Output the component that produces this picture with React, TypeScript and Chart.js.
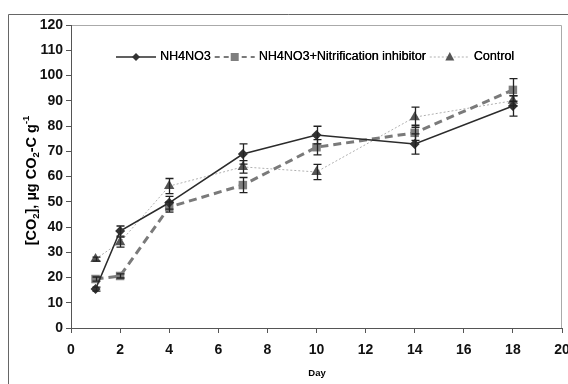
import React, { useEffect, useRef } from "react";
import { Chart, registerables } from "chart.js";

Chart.register(...registerables);

const days = [1, 2, 4, 7, 10, 14, 18];
const nh4no3 = [15.4, 38.4, 49.6, 68.9, 76.4, 72.9, 87.9];
const nh4no3Err = [0.8, 2, 2.5, 4, 3.5, 4, 4];
const inhibitor = [19.4, 20.6, 47.9, 56.6, 71.6, 77.3, 94.3];
const inhibitorErr = [0.8, 0.8, 2, 3, 3, 3, 4.5];
const control = [27.3, 34.0, 56.2, 63.8, 61.8, 83.5, 90.0];
const controlErr = [0.8, 2, 3, 2.5, 3, 4, 2];

const seriesNames = ["NH4NO3", "NH4NO3+Nitrification inhibitor", "Control"];
const xTicks = [0, 2, 4, 6, 8, 10, 12, 14, 16, 18, 20];
const yMax = 120;

const FONT = "'Liberation Sans', Arial, sans-serif";

const styles = [
  { line: "#2b2b2b", marker: "#333333", width: 1.5, dash: [] as number[], shape: "diamond", r: 5 },
  { line: "#7a7a7a", marker: "#7f7f7f", width: 3, dash: [8, 5], shape: "square", r: 6 },
  { line: "#b0b0b0", marker: "#555555", width: 1, dash: [2, 2], shape: "triangle", r: 6 },
];
const legendDash = [[], [5, 4], [2, 2]];
const legendWidth = [1.5, 2, 1];

function drawMarker(ctx: CanvasRenderingContext2D, shape: string, x: number, y: number, r: number, color: string) {
  ctx.save();
  ctx.fillStyle = color;
  ctx.beginPath();
  if (shape === "diamond") {
    ctx.moveTo(x, y - r);
    ctx.lineTo(x + r, y);
    ctx.lineTo(x, y + r);
    ctx.lineTo(x - r, y);
  } else if (shape === "square") {
    ctx.rect(x - r, y - r, 2 * r, 2 * r);
  } else {
    ctx.moveTo(x, y - r);
    ctx.lineTo(x + r * 0.9, y + r * 0.7);
    ctx.lineTo(x - r * 0.9, y + r * 0.7);
  }
  ctx.closePath();
  ctx.fill();
  ctx.restore();
}

const errs = [nh4no3Err, inhibitorErr, controlErr];

const customPlugin = {
  id: "custom",
  beforeDraw(chart: any) {
    const ctx = chart.ctx as CanvasRenderingContext2D;
    const a = chart.chartArea;
    ctx.save();
    ctx.strokeStyle = "#666";
    ctx.lineWidth = 1;
    ctx.beginPath();
    ctx.moveTo(8.5, 384);
    ctx.lineTo(8.5, 14.5);
    ctx.lineTo(568, 14.5);
    ctx.stroke();
    ctx.strokeStyle = "#aaa";
    ctx.beginPath();
    ctx.moveTo(a.left, a.top + 0.5);
    ctx.lineTo(a.right - 0.5, a.top + 0.5);
    ctx.lineTo(a.right - 0.5, a.bottom);
    ctx.stroke();
    ctx.restore();
  },
  afterDatasetsDraw(chart: any) {
    const ctx = chart.ctx as CanvasRenderingContext2D;
    const xs = chart.scales.x;
    const ys = chart.scales.y;
    ctx.save();
    ctx.strokeStyle = "#222";
    ctx.lineWidth = 1.3;
    chart.data.datasets.forEach((ds: any, i: number) => {
      ds.data.forEach((p: any, j: number) => {
        const e = errs[i][j];
        const x = Math.round(xs.getPixelForValue(p.x)) + 0.5;
        const y1 = ys.getPixelForValue(p.y - e);
        const y2 = ys.getPixelForValue(p.y + e);
        ctx.beginPath();
        ctx.moveTo(x, y1);
        ctx.lineTo(x, y2);
        ctx.moveTo(x - 4, y1);
        ctx.lineTo(x + 4, y1);
        ctx.moveTo(x - 4, y2);
        ctx.lineTo(x + 4, y2);
        ctx.stroke();
      });
    });
    ctx.restore();
  },
  afterDraw(chart: any) {
    const ctx = chart.ctx as CanvasRenderingContext2D;
    const a = chart.chartArea;
    ctx.save();
    ctx.font = `12.5px ${FONT}`;
    ctx.textBaseline = "middle";
    ctx.fillStyle = "#000";
    const ly = a.top + 32;
    let cx = a.left + 45;
    seriesNames.forEach((name, i) => {
      const s = styles[i];
      ctx.save();
      ctx.strokeStyle = s.line;
      ctx.lineWidth = legendWidth[i];
      ctx.setLineDash(legendDash[i]);
      ctx.beginPath();
      ctx.moveTo(cx, ly);
      ctx.lineTo(cx + 40, ly);
      ctx.stroke();
      ctx.restore();
      drawMarker(ctx, s.shape, cx + 20, ly, i === 1 ? 4 : s.r - 1, s.marker);
      cx += 44;
      ctx.fillText(name, cx, ly);
      ctx.fillText(name, cx + 0.3, ly);
      cx += ctx.measureText(name).width + 4;
    });
    const parts: [string, string][] = [
      ["[CO", "n"], ["2", "sub"], ["], \u00b5g CO", "n"], ["2", "sub"], ["-C g", "n"], ["-1", "sup"],
    ];
    const big = `bold 14.5px ${FONT}`;
    const small = `bold 9.5px ${FONT}`;
    let total = 0;
    parts.forEach(([t, k]) => {
      ctx.font = k === "n" ? big : small;
      total += ctx.measureText(t).width;
    });
    ctx.translate(31, (a.top + a.bottom) / 2 + 4);
    ctx.rotate(-Math.PI / 2);
    ctx.fillStyle = "#000";
    ctx.textBaseline = "alphabetic";
    ctx.textAlign = "left";
    let px = -total / 2;
    parts.forEach(([t, k]) => {
      ctx.font = k === "n" ? big : small;
      const dy = k === "sub" ? 3 : k === "sup" ? -7 : 0;
      ctx.fillText(t, px, 5 + dy);
      px += ctx.measureText(t).width;
    });
    ctx.restore();
    ctx.save();
    ctx.font = `bold 9.5px ${FONT}`;
    ctx.fillStyle = "#000";
    ctx.textAlign = "center";
    ctx.textBaseline = "middle";
    ctx.fillText("Day", (a.left + a.right) / 2 + 0.5, 373);
    ctx.restore();
  },
};

export default function App() {
  const ref = useRef<HTMLCanvasElement>(null);
  useEffect(() => {
    if (!ref.current) return;
    const mk = (vals: number[]) => days.map((d, i) => ({ x: d, y: vals[i] }));
    const all = [nh4no3, inhibitor, control];
    const chart = new Chart(ref.current, {
      type: "line",
      data: {
        datasets: all.map((vals, i) => ({
          label: seriesNames[i],
          data: mk(vals),
          borderColor: styles[i].line,
          borderWidth: styles[i].width,
          borderDash: styles[i].dash,
          pointStyle: styles[i].shape === "diamond" ? "rectRot" : styles[i].shape === "square" ? "rect" : "triangle",
          pointRadius: styles[i].r,
          pointBackgroundColor: styles[i].marker,
          pointBorderColor: styles[i].marker,
          pointBorderWidth: 0,
          tension: 0,
          fill: false,
        })),
      },
      options: {
        responsive: false,
        animation: false,
        layout: { padding: { top: 25, right: 4, left: 0, bottom: 0 } },
        plugins: { legend: { display: false }, tooltip: { enabled: false } },
        scales: {
          x: {
            type: "linear",
            min: 0,
            max: 20,
            afterBuildTicks: (s: any) => {
              s.ticks = xTicks.map((v) => ({ value: v }));
            },
            afterFit: (s: any) => {
              s.height = 56;
              s.paddingLeft = 0;
              s.paddingRight = 0;
            },
            ticks: {
              font: { family: FONT, size: 14, weight: "bold" },
              color: "#111",
              padding: 9,
              maxRotation: 0,
              autoSkip: false,
            },
            grid: { display: true, drawOnChartArea: false, color: "#555", tickLength: 5 },
            border: { display: true, color: "#555", width: 1 },
          },
          y: {
            type: "linear",
            min: 0,
            max: yMax,
            ticks: {
              stepSize: 10,
              font: { family: FONT, size: 14, weight: "bold" },
              color: "#111",
              padding: 3,
            },
            afterFit: (s: any) => {
              s.width = 71;
              s.paddingTop = 0;
              s.paddingBottom = 0;
            },
            grid: { display: true, drawOnChartArea: false, color: "#555", tickLength: 5 },
            border: { display: true, color: "#555", width: 1 },
          },
        },
      } as any,
      plugins: [customPlugin],
    });
    return () => chart.destroy();
  }, []);
  return (
    <div style={{ position: "fixed", left: 0, top: 0, width: 568, height: 384, background: "#fff" }}>
      <canvas ref={ref} width={568} height={384} style={{ width: 568, height: 384, display: "block" }} />
    </div>
  );
}
